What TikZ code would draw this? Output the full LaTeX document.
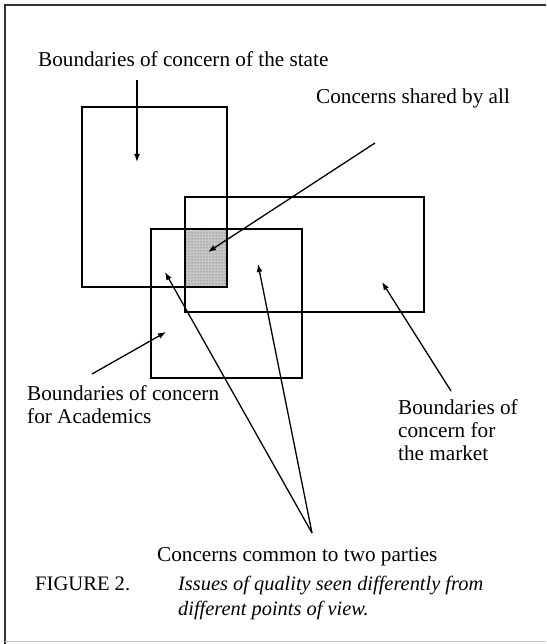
\documentclass[tikz,border=0pt]{standalone}
\usepackage{fontspec}
\setmainfont{Liberation Serif}
\usetikzlibrary{arrows.meta,patterns}
\begin{document}
\begin{tikzpicture}[x=1pt,y=-1pt,
  box/.style={draw=black,line width=1.9pt,rectangle,inner sep=0pt},
  arr/.style={draw=black,line width=1.3pt,-{Latex[length=8pt,width=6pt]}},
  lbl/.style={font=\fontsize{21.2}{23}\selectfont,anchor=base west,inner sep=0pt,align=left},
  frame/.style={draw=black!80,line width=1.5pt}]
\useasboundingbox (0,0) rectangle (546,644);
% frame
\draw[frame] (546,5) -- (5,5) -- (5,644);
\draw[draw=black!25,line width=0.8pt] (5,641) -- (546,641);
% shaded intersection
\fill[black!22] (184,228) rectangle (226,286);
\fill[pattern=dots,pattern color=black!70] (184,228) rectangle (226,286);
% boxes
\node[box,anchor=north west,minimum width=145pt,minimum height=180pt] (statebox) at (81,106) {};
\node[box,anchor=north west,minimum width=239pt,minimum height=115pt] (marketbox) at (184,196) {};
\node[box,anchor=north west,minimum width=151pt,minimum height=149pt] (acadbox) at (150,228) {};
% labels (base = baseline of the last line)
\node[lbl] (state) at (38,67) {Boundaries of concern of the state};
\node[lbl] (shared) at (316,104) {Concerns shared by all};
\node[lbl] (acad) at (27,423) {Boundaries of concern\\for Academics};
\node[lbl] (market) at (398,460) {Boundaries of\\concern for\\the market};
\node[lbl] (common) at (157,561) {Concerns common to two parties};
\node[lbl,font=\fontsize{20.6}{25}\selectfont] (fig) at (35,590) {FIGURE 2.};
\node[lbl,font=\fontsize{20.4}{25}\selectfont\itshape] (cap) at (178,615) {Issues of quality seen differently from\\different points of view.};
% arrow endpoints
\coordinate (s1) at (137,80);
\coordinate (s2) at (137,162);
\coordinate (h1) at (375,143);
\coordinate (h2) at (208,252);
\coordinate (a1) at (92,374);
\coordinate (a2) at (166,332);
\coordinate (m1) at (451,391);
\coordinate (m2) at (382,282);
\coordinate (c0) at (312,533);
\coordinate (c1) at (165,272);
\coordinate (c2) at (258,264);
% arrows
\draw[arr] (s1) -- (s2);
\draw[arr] (h1) -- (h2);
\draw[arr] (a1) -- (a2);
\draw[arr] (m1) -- (m2);
\draw[arr] (c0) -- (c1);
\draw[arr] (c0) -- (c2);
\end{tikzpicture}
\end{document}
